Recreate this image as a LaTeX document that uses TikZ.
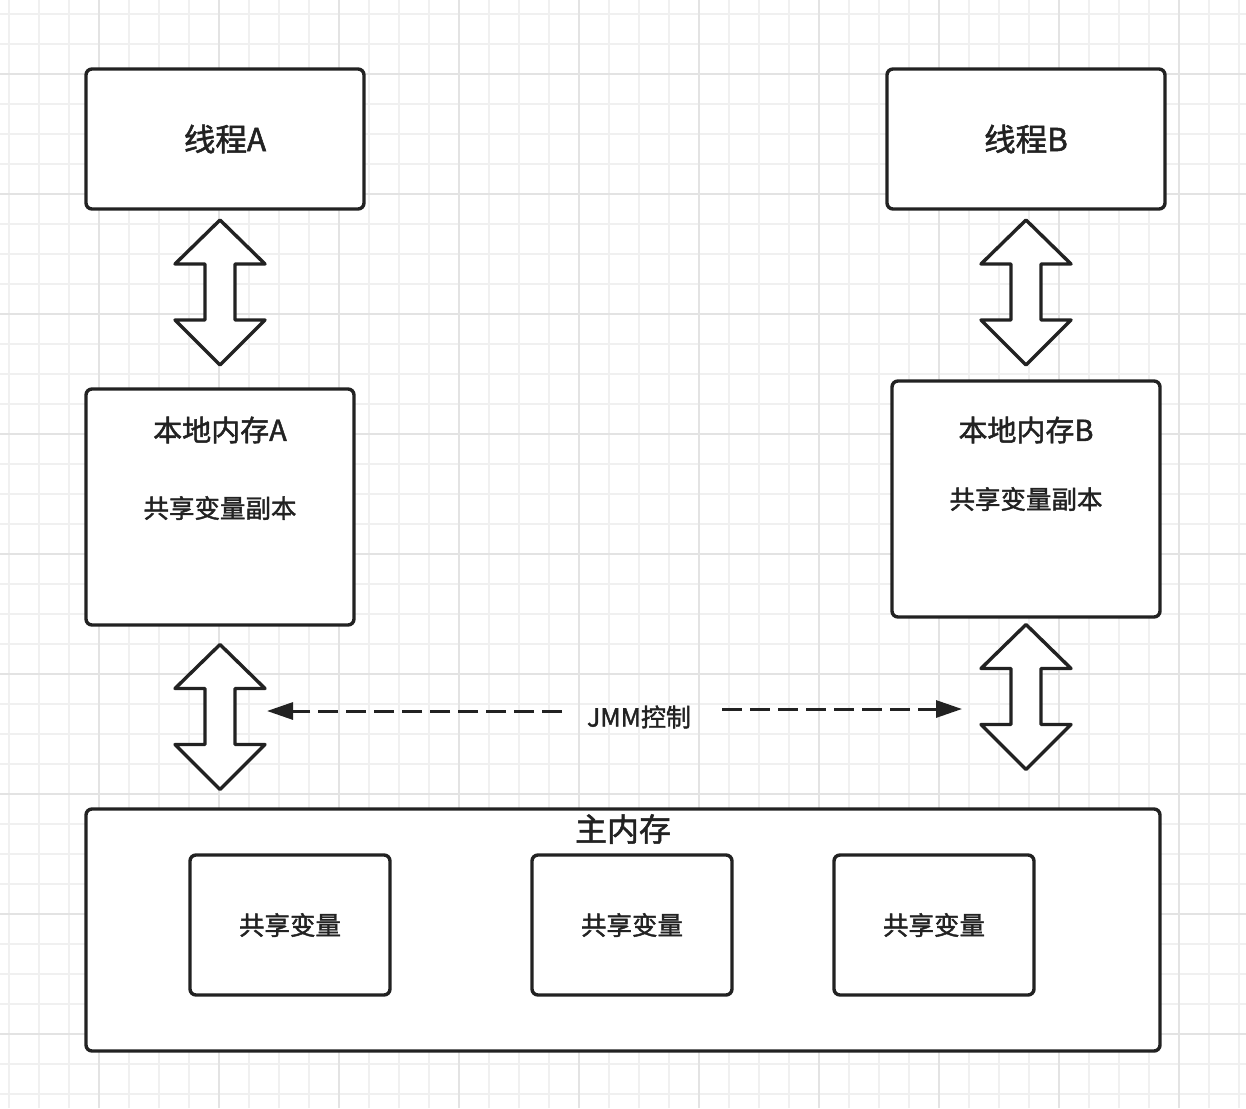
\documentclass[tikz,border=0pt]{standalone}
\usepackage{fontspec}
\setmainfont{Noto Sans CJK SC}[FakeBold=1.6]
\usetikzlibrary{arrows.meta}
\definecolor{ink}{HTML}{222222}
\definecolor{gridminor}{HTML}{F0F0F0}
\definecolor{gridmajor}{HTML}{E3E3E3}
\tikzset{
  box/.style={draw=ink, line width=3.4pt, rounded corners=6pt, fill=white, text=ink, inner sep=0pt, anchor=center},
  lbl/.style={text=ink, inner sep=0pt, anchor=center},
  jmmline/.style={draw=ink, line width=3pt, dash pattern=on 20pt off 8pt, -{Triangle[length=26pt,width=17pt]}},
  dblarrow/.pic={
    \draw[ink, line width=3.4pt, line join=round, fill=white]
      (0,-72.5) -- (45,-28.5) -- (15,-28.5) -- (15,27.5) -- (45,27.5) -- (0,72.5)
      -- (-45,27.5) -- (-15,27.5) -- (-15,-28.5) -- (-45,-28.5) -- cycle;
  }
}
\begin{document}
\begin{tikzpicture}[x=1pt,y=-1pt]
\useasboundingbox[fill=white] (0,0) rectangle (1246,1108);
% grid
\foreach \k in {0,...,41} { \draw[gridminor, line width=1.5pt] ({9+30*\k},0) -- ({9+30*\k},1108); }
\foreach \k in {0,...,36} { \draw[gridminor, line width=1.5pt] (0,{14+30*\k}) -- (1246,{14+30*\k}); }
\foreach \k in {0,...,9} { \draw[gridmajor, line width=1.5pt] ({99+120*\k},0) -- ({99+120*\k},1108); }
\foreach \k in {0,...,8} { \draw[gridmajor, line width=1.5pt] (0,{74+120*\k}) -- (1246,{74+120*\k}); }

% thread boxes
\node[box, minimum width=278pt, minimum height=140pt, font=\fontsize{31.5}{35}\selectfont] (tA) at (225,139) {线程A};
\node[box, minimum width=278pt, minimum height=140pt, font=\fontsize{31.5}{35}\selectfont] (tB) at (1026,139) {线程B};

% local memory boxes
\node[box, minimum width=268pt, minimum height=236pt] (mA) at (220,507) {};
\node[lbl, font=\fontsize{29}{33}\selectfont] (mAt) at (220,430) {本地内存A};
\node[lbl, font=\fontsize{25.5}{29}\selectfont] (mAs) at (220,508) {共享变量副本};
\node[box, minimum width=268pt, minimum height=236pt] (mB) at (1026,499) {};
\node[lbl, font=\fontsize{29}{33}\selectfont] (mBt) at (1026,430) {本地内存B};
\node[lbl, font=\fontsize{25.5}{29}\selectfont] (mBs) at (1026,499) {共享变量副本};

% main memory
\node[box, minimum width=1074pt, minimum height=242pt] (main) at (623,930) {};
\node[lbl, font=\fontsize{32}{36}\selectfont] (mainT) at (623,829) {主内存};
\node[box, minimum width=200pt, minimum height=140pt, font=\fontsize{25.5}{29}\selectfont] (v1) at (290,925) {共享变量};
\node[box, minimum width=200pt, minimum height=140pt, font=\fontsize{25.5}{29}\selectfont] (v2) at (632,925) {共享变量};
\node[box, minimum width=200pt, minimum height=140pt, font=\fontsize{25.5}{29}\selectfont] (v3) at (934,925) {共享变量};

% double block arrows
\pic at (220,292.5) {dblarrow};
\pic at (1026,292.5) {dblarrow};
\pic at (220,717) {dblarrow};
\pic at (1026,697) {dblarrow};

% JMM control
\node[lbl, font=\fontsize{25}{29}\selectfont] (jmm) at (639,717) {JMM控制};
\coordinate (jl1) at (562,711);
\coordinate (jl2) at (267,711);
\coordinate (jr1) at (722,709);
\coordinate (jr2) at (962,709);
\draw[jmmline] (jl1) -- (jl2);
\draw[jmmline] (jr1) -- (jr2);
\end{tikzpicture}
\end{document}
